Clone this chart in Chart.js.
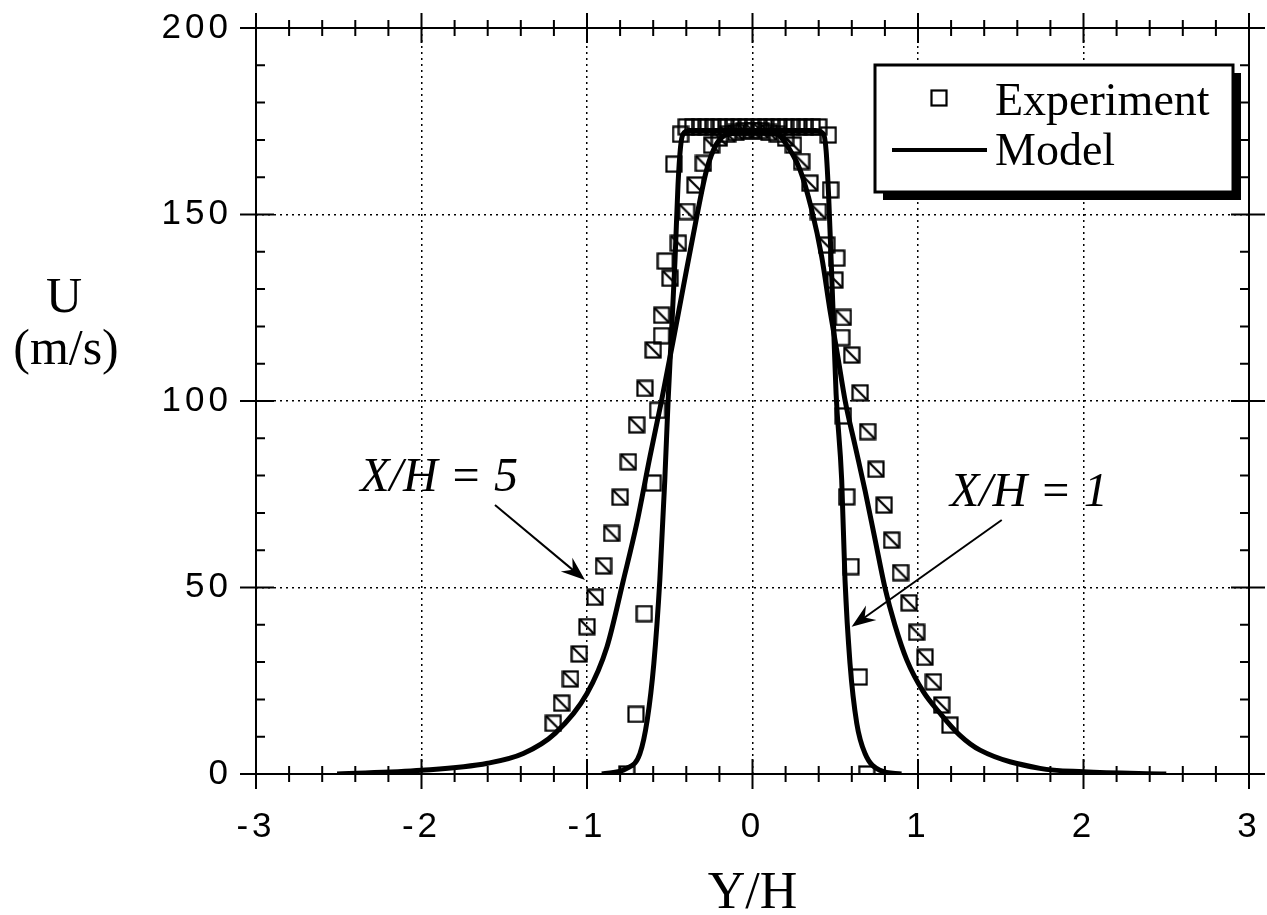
<!DOCTYPE html>
<html>
<head>
<meta charset="utf-8">
<script src="https://cdn.jsdelivr.net/npm/chart.js@4.4.1/dist/chart.umd.min.js"></script>
<style>
  html, body { margin: 0; padding: 0; background: #fff; }
</style>
</head>
<body>
<canvas id="perfil" width="1267" height="915"></canvas>
<script>
// Perfil de velocidad U frente a Y/H en dos estaciones (X/H = 1 y X/H = 5)

// Experimento, X/H = 1 (cuadros vacios)
const expY1 = [-0.76, -0.704, -0.654, -0.60, -0.573, -0.549, -0.527, -0.475, -0.435,
  -0.40, -0.36, -0.32, -0.28, -0.24, -0.20, -0.16, -0.12, -0.08, -0.04, 0,
  0.04, 0.08, 0.12, 0.16, 0.20, 0.24, 0.28, 0.32, 0.36, 0.40,
  0.458, 0.472, 0.509, 0.539, 0.549, 0.569, 0.595, 0.645, 0.69];
const expU1 = [0, 16, 43, 78, 97.5, 117.5, 137.5, 163.5, 171.5,
  173.5, 173.5, 173.5, 173.5, 173.5, 173.5, 173.5, 173.5, 173.5, 173.5, 173.5,
  173.5, 173.5, 173.5, 173.5, 173.5, 173.5, 173.5, 173.5, 173.5, 173.5,
  171.3, 156.6, 138.3, 117, 96, 74.3, 55.6, 26, 0];

// Experimento, X/H = 5 (cuadros rayados)
const expY5 = [-1.204, -1.153, -1.10, -1.047, -1.0, -0.952, -0.90, -0.851, -0.80, -0.75,
  -0.70, -0.65, -0.60, -0.549, -0.498, -0.448, -0.398, -0.347, -0.297, -0.247,
  -0.20, -0.15, -0.10, -0.05, 0, 0.05, 0.10, 0.15, 0.20,
  0.247, 0.297, 0.347, 0.398, 0.448, 0.498, 0.549, 0.60, 0.65, 0.696,
  0.746, 0.795, 0.841, 0.895, 0.946, 0.992, 1.042, 1.093, 1.143, 1.193];
const expU5 = [13.6, 19, 25.5, 32.2, 39.5, 47.4, 55.8, 64.5, 74.2, 83.7,
  93.6, 103.4, 113.7, 123, 132.9, 142.3, 150.8, 157.9, 163.7, 168.6,
  170.5, 171.5, 172, 172.5, 172.5, 172.5, 172, 171.5, 170.5,
  168.6, 164.2, 158.4, 150.8, 141.8, 132.4, 122.4, 112.3, 102.2, 91.8,
  81.7, 72.1, 62.7, 54, 45.9, 38, 31.3, 24.7, 18.5, 13.1];

// Modelo, X/H = 1
const modY1 = [-0.91, -0.76, -0.68, -0.636, -0.596, -0.56, -0.53, -0.51, -0.49, -0.468,
  -0.45, -0.435, -0.42, -0.38, 0, 0.38, 0.43, 0.445, 0.46, 0.475,
  0.49, 0.505, 0.539, 0.559, 0.589, 0.63, 0.68, 0.77, 0.90];
const modU1 = [0, 1.5, 5.5, 14.5, 29.7, 52, 78.8, 100, 118, 138,
  158, 168, 171.5, 172.5, 172.5, 172.5, 171.5, 167, 155, 138,
  120, 102, 78.8, 52, 29.7, 13.6, 5.5, 1, 0];

// Modelo, X/H = 5
const modY5 = [-2.51, -2.0, -1.6, -1.385, -1.193, -1.0, -0.88, -0.78, -0.70, -0.62,
  -0.55, -0.48, -0.418, -0.337, -0.277, -0.216, -0.15, 0, 0.15, 0.186,
  0.287, 0.358, 0.418, 0.468, 0.515, 0.56, 0.62, 0.68, 0.74, 0.80,
  0.86, 0.932, 1.033, 1.133, 1.25, 1.375, 1.737, 2.0, 2.5];
const modU5 = [0, 1, 2.9, 5.5, 10.9, 21.6, 34, 52, 67, 85,
  100, 116, 130.6, 149.4, 162, 169, 171.5, 172, 171.5, 170,
  162, 151.2, 138.7, 124.4, 112, 100, 88, 76, 63, 50,
  40, 30.6, 22, 16.3, 10.5, 6.4, 1.5, 0.6, 0];

// Rotulos de las estaciones: texto (x, u) y flecha (desde, hasta)
const rotulos = [
  { texto: 'X/H = 5', x: -2.37, u: 76, desde: [-1.556, 72.1], hasta: [-1.012, 52.0] },
  { texto: 'X/H = 1', x: 1.193, u: 71.8, desde: [1.506, 68.1], hasta: [0.599, 39.5] }
];

const rangoX = [-3, 3];
const rangoU = [0, 200];

function puntos(xs, us) {
  return xs.map((v, i) => ({ x: v, y: us[i] }));
}

// marcador cuadrado, con o sin diagonal
function cuadro(rayado) {
  const c = document.createElement('canvas');
  c.width = 18; c.height = 18;
  const g = c.getContext('2d');
  g.strokeStyle = '#000';
  g.lineWidth = 2.2;
  g.strokeRect(1.5, 1.5, 15, 15);
  if (rayado) {
    g.beginPath();
    g.moveTo(2, 2);
    g.lineTo(16, 16);
    g.stroke();
  }
  return c;
}
const cuadroVacio = cuadro(false);
const cuadroRayado = cuadro(true);

function flecha(ctx, x0, y0, x1, y1) {
  const ang = Math.atan2(y1 - y0, x1 - x0);
  const largo = 24, ancho = 9;
  ctx.beginPath();
  ctx.moveTo(x0, y0);
  ctx.lineTo(x1 - Math.cos(ang) * 12, y1 - Math.sin(ang) * 12);
  ctx.lineWidth = 2;
  ctx.stroke();
  const bx = x1 - Math.cos(ang) * largo, by = y1 - Math.sin(ang) * largo;
  const nx = x1 - Math.cos(ang) * (largo - 8), ny = y1 - Math.sin(ang) * (largo - 8);
  ctx.beginPath();
  ctx.moveTo(x1, y1);
  ctx.lineTo(bx + Math.sin(ang) * ancho, by - Math.cos(ang) * ancho);
  ctx.lineTo(nx, ny);
  ctx.lineTo(bx - Math.sin(ang) * ancho, by + Math.cos(ang) * ancho);
  ctx.closePath();
  ctx.fill();
}

// marco, marcas cruzadas, titulos, leyenda y rotulos
const marcoEjes = {
  id: 'marcoEjes',
  beforeDraw(chart) {
    chart.ctx.letterSpacing = '4px';
  },
  afterDraw(chart) {
    const { ctx, chartArea: a, scales: { x, y } } = chart;
    ctx.save();
    ctx.letterSpacing = '0px';
    ctx.strokeStyle = '#000';
    ctx.fillStyle = '#000';

    ctx.lineWidth = 2;
    ctx.strokeRect(a.left, a.top, a.right - a.left, a.bottom - a.top);

    ctx.beginPath();
    for (let i = 0; i <= 30; i++) {
      const px = x.getPixelForValue(rangoX[0] + i * 0.2);
      const m = i % 5 === 0 ? 15 : 8;
      ctx.moveTo(px, a.bottom - m); ctx.lineTo(px, a.bottom + m);
      ctx.moveTo(px, a.top - m); ctx.lineTo(px, a.top + m);
    }
    for (let i = 0; i <= 20; i++) {
      const py = y.getPixelForValue(rangoU[0] + i * 10);
      if (i % 5 === 0) {
        ctx.moveTo(a.left - 16, py); ctx.lineTo(a.left + 18, py);
        ctx.moveTo(a.right - 18, py); ctx.lineTo(a.right + 16, py);
      } else {
        ctx.moveTo(a.left, py); ctx.lineTo(a.left + 9, py);
        ctx.moveTo(a.right - 9, py); ctx.lineTo(a.right, py);
      }
    }
    ctx.lineWidth = 2;
    ctx.stroke();

    // titulos de los ejes
    ctx.textAlign = 'center';
    ctx.textBaseline = 'alphabetic';
    ctx.font = '50px "Liberation Serif"';
    ctx.fillText('U', 64, 312);
    ctx.fillText('(m/s)', 66, 364);
    ctx.font = '52px "Liberation Serif"';
    ctx.fillText('Y/H', (a.left + a.right) / 2, 908);

    // leyenda con sombra
    const bw = 358, bh = 127;
    const bx = a.right - 374, by = a.top + 37;
    ctx.fillRect(bx + 8, by + 8, bw, bh);
    ctx.fillStyle = '#fff';
    ctx.fillRect(bx, by, bw, bh);
    ctx.fillStyle = '#000';
    ctx.lineWidth = 3;
    ctx.strokeRect(bx, by, bw, bh);
    ctx.drawImage(cuadroVacio, bx + 64 - 9, by + 33 - 9);
    ctx.beginPath();
    ctx.moveTo(bx + 17, by + 85);
    ctx.lineTo(bx + 112, by + 85);
    ctx.lineWidth = 4;
    ctx.stroke();
    ctx.textAlign = 'left';
    ctx.font = '46px "Liberation Serif"';
    ctx.fillText('Experiment', bx + 120, by + 50);
    ctx.fillText('Model', bx + 120, by + 100);

    // rotulos de estacion con flecha
    ctx.font = 'italic 48px "Liberation Serif"';
    rotulos.forEach(r => {
      ctx.fillText(r.texto, x.getPixelForValue(r.x), y.getPixelForValue(r.u));
      flecha(ctx,
        x.getPixelForValue(r.desde[0]), y.getPixelForValue(r.desde[1]),
        x.getPixelForValue(r.hasta[0]), y.getPixelForValue(r.hasta[1]));
    });
    ctx.restore();
  }
};

const linea = {
  showLine: true,
  borderColor: '#000',
  borderWidth: 5,
  pointRadius: 0,
  cubicInterpolationMode: 'monotone',
  fill: false
};

new Chart(document.getElementById('perfil'), {
  type: 'scatter',
  data: {
    datasets: [
      Object.assign({ label: 'Model', data: puntos(modY1, modU1) }, linea),
      Object.assign({ label: 'Model X/H=5', data: puntos(modY5, modU5) }, linea),
      { label: 'Experiment', data: puntos(expY1, expU1), pointStyle: cuadroVacio, pointRadius: 8, showLine: false },
      { label: 'Experiment X/H=5', data: puntos(expY5, expU5), pointStyle: cuadroRayado, pointRadius: 8, showLine: false }
    ]
  },
  options: {
    responsive: false,
    animation: false,
    layout: { padding: { top: 28, right: 18, left: 0, bottom: 0 } },
    plugins: {
      legend: { display: false },
      tooltip: { enabled: false }
    },
    scales: {
      x: {
        type: 'linear',
        min: rangoX[0],
        max: rangoX[1],
        // alto fijo del eje y sin margen lateral extra
        afterFit(s) { s.height = 141; s.paddingLeft = 0; s.paddingRight = 0; },
        ticks: {
          stepSize: 1,
          color: '#000',
          padding: 32,
          maxRotation: 0,
          font: { family: 'Liberation Sans', size: 35 }
        },
        grid: { color: '#000', lineWidth: 1.5, drawTicks: false },
        border: { display: false, dash: [2, 4] }
      },
      y: {
        min: rangoU[0],
        max: rangoU[1],
        afterFit(s) { s.width = 256; s.paddingTop = 0; s.paddingBottom = 0; },
        ticks: {
          stepSize: 50,
          color: '#000',
          padding: 24,
          font: { family: 'Liberation Sans', size: 35 }
        },
        grid: { color: '#000', lineWidth: 1.5, drawTicks: false },
        border: { display: false, dash: [2, 4] }
      }
    }
  },
  plugins: [marcoEjes]
});
</script>
</body>
</html>
